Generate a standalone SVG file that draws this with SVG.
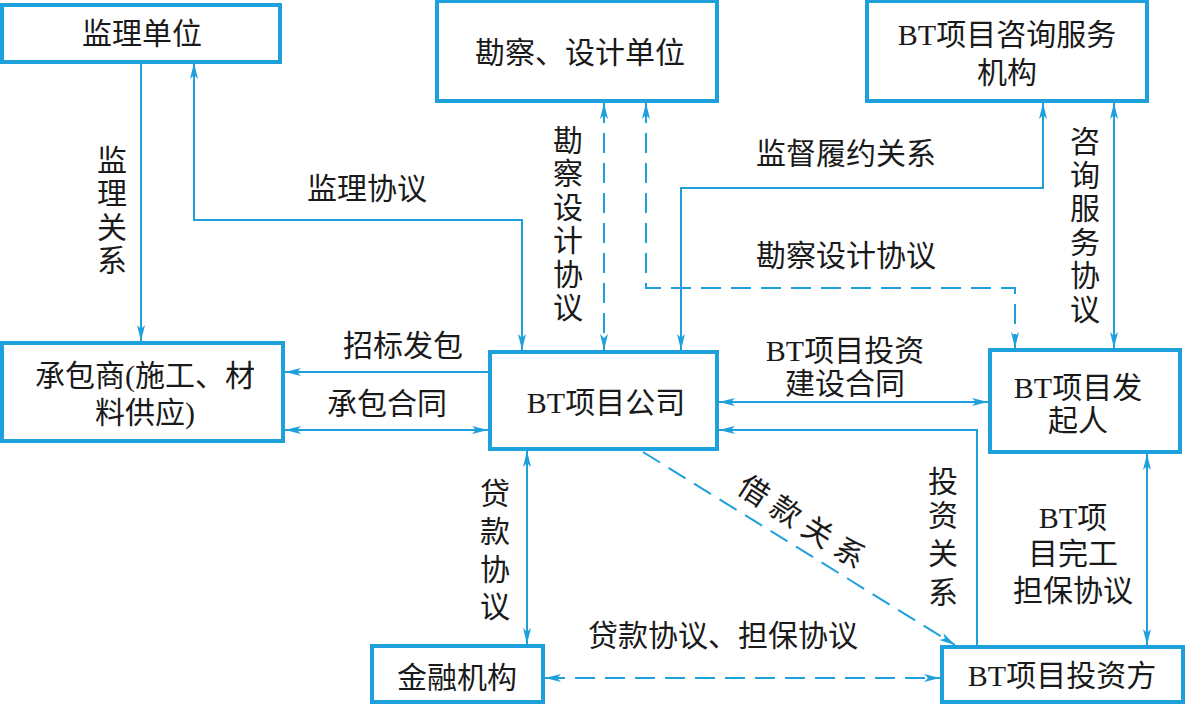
<svg xmlns="http://www.w3.org/2000/svg" width="1188" height="705" viewBox="0 0 1188 705">
<defs>
<marker id="ah" viewBox="0 0 16 8" refX="16" refY="4" markerWidth="16" markerHeight="8" markerUnits="userSpaceOnUse" orient="auto-start-reverse">
<path d="M0,0 L16,4 L0,8 L4,4 z" fill="#1ea0dc"/>
</marker>
<style>
.box{fill:#fff;stroke:#1ea0dc;stroke-width:4}
.c{fill:none;stroke:#1ea0dc;stroke-width:2}
.d{stroke-dasharray:20 10}
.e{marker-end:url(#ah)}
.s{marker-start:url(#ah)}
text{font-family:"Liberation Serif","Noto Sans CJK SC",serif;font-size:30px;fill:#1a1a1a;text-anchor:middle;dominant-baseline:central}
</style>
</defs>
<rect width="1188" height="705" fill="#fff"/>
<g id="connectors">
<path class="c e" d="M141,62 V341"/>
<path class="c s e" d="M194,63 V220 H522 V350"/>
<path class="c d s e" d="M604,103 V350"/>
<path class="c d s e" d="M646,103 V288 H1015 V348"/>
<path class="c s e" d="M1043,103 V188 H681 V350"/>
<path class="c s e" d="M1114,103 V348"/>
<path class="c e" d="M490,372 H285"/>
<path class="c s e" d="M285,430 H488"/>
<path class="c s e" d="M719,402 H988"/>
<path class="c e" d="M977,645 V430 H719"/>
<path class="c s e" d="M1147,454 V645"/>
<path class="c d e" d="M643,452 L955,645"/>
<path class="c s e" d="M527,451 V644"/>
<path class="c d s e" d="M545,678 H940"/>
</g>
<g id="labels">
<text x="112" y="160">监</text><text x="112" y="193">理</text><text x="112" y="227">关</text><text x="112" y="260">系</text>
<text x="367" y="188">监理协议</text>
<text x="568" y="140">勘</text><text x="568" y="173">察</text><text x="568" y="207">设</text><text x="568" y="240">计</text><text x="568" y="274">协</text><text x="568" y="307">议</text>
<text x="846" y="153">监督履约关系</text>
<text x="846" y="255">勘察设计协议</text>
<text x="1085" y="141">咨</text><text x="1085" y="175">询</text><text x="1085" y="208">服</text><text x="1085" y="242">务</text><text x="1085" y="275">协</text><text x="1085" y="309">议</text>
<text x="403" y="345">招标发包</text>
<text x="387" y="403">承包合同</text>
<text x="845" y="350">BT项目投资</text>
<text x="845" y="383">建设合同</text>
<text x="943" y="481">投</text><text x="943" y="515">资</text><text x="943" y="553">关</text><text x="943" y="592">系</text>
<text transform="translate(805,524) rotate(33)" letter-spacing="8">借款关系</text>
<text x="495" y="493">贷</text><text x="495" y="531">款</text><text x="495" y="569">协</text><text x="495" y="606">议</text>
<text x="723" y="635">贷款协议、担保协议</text>
<text x="1073" y="517">BT项</text>
<text x="1073" y="553">目完工</text>
<text x="1073" y="590">担保协议</text>
</g>
<g id="n1"><rect class="box" x="2" y="5" width="278" height="57"/><text x="142" y="33">监理单位</text></g>
<g id="n2"><rect class="box" x="437" y="1" width="280" height="100"/><text x="580" y="52">勘察、设计单位</text></g>
<g id="n3"><rect class="box" x="867" y="1" width="280" height="100"/><text x="1007" y="34">BT项目咨询服务</text><text x="1007" y="72">机构</text></g>
<g id="n4"><rect class="box" x="2" y="343" width="281" height="98"/><text x="145" y="375">承包商(施工、材</text><text x="145" y="412">料供应)</text></g>
<g id="n5"><rect class="box" x="490" y="352" width="227" height="97"/><text x="606" y="402">BT项目公司</text></g>
<g id="n6"><rect class="box" x="990" y="350" width="190" height="102"/><text x="1078" y="387">BT项目发</text><text x="1078" y="420">起人</text></g>
<g id="n7"><rect class="box" x="372" y="646" width="171" height="56"/><text x="457" y="677">金融机构</text></g>
<g id="n8"><rect class="box" x="942" y="647" width="241" height="55"/><text x="1062" y="675">BT项目投资方</text></g>
</svg>
